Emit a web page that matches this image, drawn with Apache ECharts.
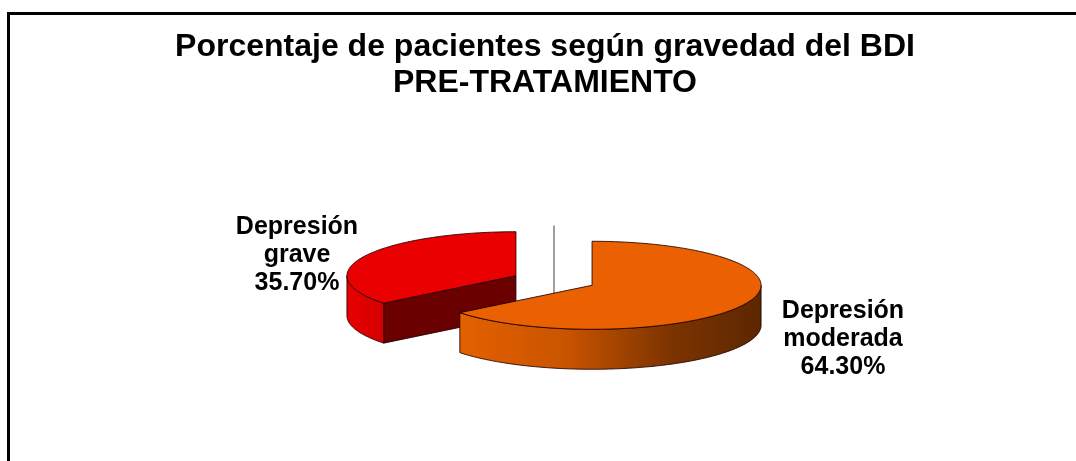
<!DOCTYPE html>
<html>
<head>
<meta charset="utf-8">
<script src="https://cdn.jsdelivr.net/npm/echarts@6/dist/echarts.min.js"></script>
<style>
  html, body { margin: 0; padding: 0; background: #fff; }
  #chart { width: 1076px; height: 461px; }
</style>
</head>
<body>
<div id="chart"></div>
<script>
// slices in clockwise order from 12 o'clock
const categories = ['Depresión moderada', 'Depresión grave']
const values = [64.3, 35.7]

// look of the 3D pie
const topColors = ['#EB6000', '#EA0000']
const cutColors = ['#7A3000', '#6B0000']
const wallStops = [
  [{ offset: 0, color: '#E46100' }, { offset: 0.35, color: '#C95400' }, { offset: 0.7, color: '#7C3400' }, { offset: 1, color: '#5C2700' }],
  [{ offset: 0, color: '#E80000' }, { offset: 1, color: '#D40000' }]
]
const labelPos = [[843, 339], [297, 255]]
const pie = { cx: 554, cy: 280.5, rx: 169, ry: 44, depth: 40, explode: 0.25 }

const chart = echarts.init(document.getElementById('chart'))
const total = values.reduce((a, b) => a + b, 0)

const renderItem = (params, api) => {
  const i = api.value(0)
  const before = values.slice(0, i).reduce((a, b) => a + b, 0)
  const start = before / total * Math.PI * 2
  const end = (before + values[i]) / total * Math.PI * 2
  const mid = (start + end) / 2
  const { rx, ry, depth: h } = pie
  const cx = pie.cx + pie.explode * rx * Math.sin(mid)
  const cy = pie.cy - pie.explode * ry * Math.cos(mid)
  const pt = (a, dy = 0) => [cx + rx * Math.sin(a), cy - ry * Math.cos(a) + dy]
  const arc = (a0, a1, dy) => {
    const n = Math.max(2, Math.ceil((a1 - a0) / 0.02))
    const pts = []
    for (let k = 0; k <= n; k++) pts.push(pt(a0 + (a1 - a0) * k / n, dy))
    return pts
  }
  const edge = { stroke: 'rgba(30,0,0,0.85)', lineWidth: 1 }
  const children = []

  // thin grey guide line behind the pie
  if (i === values.length - 1) {
    children.push({
      type: 'line',
      shape: { x1: pie.cx, y1: pie.cy - ry - 11, x2: pie.cx, y2: pie.cy + 14 },
      style: { stroke: '#808080', lineWidth: 1.5 }
    })
  }

  // radial cut faces that look toward the viewer
  const cut = (a, normal) => {
    if (Math.cos(normal) < -1e-6) {
      children.push({
        type: 'polygon',
        shape: { points: [[cx, cy], pt(a), pt(a, h), [cx, cy + h]] },
        style: { fill: cutColors[i], ...edge }
      })
    }
  }
  cut(start, start - Math.PI / 2)
  cut(end, end + Math.PI / 2)

  // front part of the outer wall
  const w0 = Math.max(start, Math.PI / 2)
  const w1 = Math.min(end, Math.PI * 1.5)
  if (w1 > w0) {
    const topArc = arc(w0, w1, 0)
    const botArc = arc(w0, w1, h).reverse()
    children.push({
      type: 'polygon',
      shape: { points: topArc.concat(botArc) },
      style: { fill: new echarts.graphic.LinearGradient(0, 0, 1, 0, wallStops[i]), ...edge }
    })
  }

  // top face
  children.push({
    type: 'polygon',
    shape: { points: [[cx, cy]].concat(arc(start, end, 0)) },
    style: { fill: topColors[i], ...edge }
  })

  // data label
  children.push({
    type: 'text',
    style: {
      text: categories[i].replace(' ', '\n') + '\n' + values[i].toFixed(2) + '%',
      x: labelPos[i][0],
      y: labelPos[i][1],
      align: 'center',
      verticalAlign: 'middle',
      fontFamily: 'Arial, "Liberation Sans", sans-serif',
      fontWeight: 'bold',
      fontSize: 25,
      lineHeight: 28,
      fill: '#000'
    }
  })

  return { type: 'group', children }
}

const option = {
  animation: false,
  backgroundColor: '#fff',
  title: {
    text: 'Porcentaje de pacientes según gravedad del BDI\nPRE-TRATAMIENTO',
    left: 540,
    top: 24,
    textAlign: 'center',
    textStyle: {
      fontFamily: 'Arial, "Liberation Sans", sans-serif',
      fontWeight: 'bold',
      fontSize: 32,
      lineHeight: 36,
      color: '#000'
    }
  },
  graphic: [{
    type: 'rect',
    shape: { x: 8.5, y: 13.5, width: 1200, height: 600 },
    style: { fill: 'none', stroke: '#000', lineWidth: 3 }
  }],
  series: [{
    type: 'custom',
    coordinateSystem: 'none',
    renderItem,
    // draw the back slice first so the front slice covers it
    data: [[1], [0]]
  }]
}

chart.setOption(option)
</script>
</body>
</html>
